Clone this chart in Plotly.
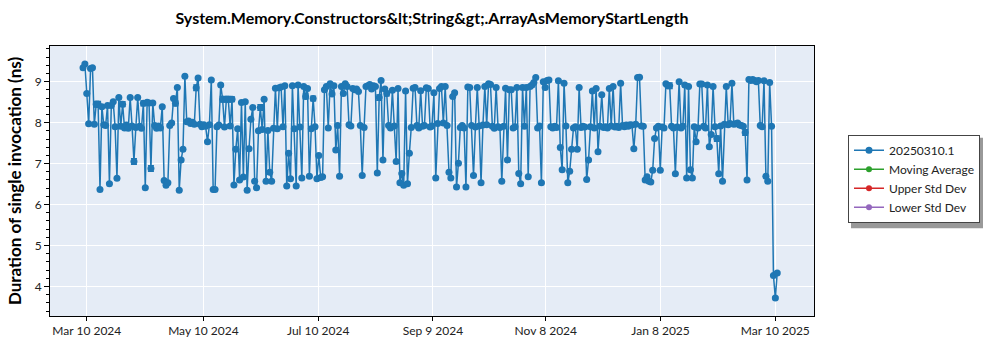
import pandas as pd
import plotly.graph_objects as go

# ---------------- data ----------------
series_name = "20250310.1"
first_day = "2024-03-08"   # one run per day from this date
values = [
    9.34, 9.43, 8.71, 7.97, 9.32, 9.34, 7.96, 8.45, 8.45, 6.37,
    8.39, 7.95, 7.93, 8.42, 6.51, 8.42, 8.51, 7.90, 6.64, 8.61,
    7.91, 8.45, 7.87, 7.94, 7.86, 8.61, 7.92, 7.05, 7.88, 8.61,
    7.91, 7.86, 8.47, 6.41, 8.50, 8.48, 6.88, 8.48, 7.93, 7.86,
    7.92, 7.87, 8.39, 6.59, 6.47, 6.53, 7.93, 7.99, 8.59, 8.47,
    8.86, 6.35, 7.09, 7.35, 9.13, 8.02, 8.04, 7.98, 8.01, 7.96,
    8.85, 9.09, 7.96, 7.90, 7.95, 7.91, 7.53, 7.95, 9.04, 6.37,
    6.37, 7.90, 7.94, 8.92, 8.57, 7.89, 8.57, 8.57, 7.92, 8.57,
    6.48, 7.35, 7.85, 6.60, 8.49, 6.67, 8.51, 6.35, 7.36, 8.08,
    8.37, 6.57, 6.41, 7.80, 8.37, 7.83, 8.57, 6.57, 7.81, 6.79,
    6.57, 7.86, 8.84, 7.85, 8.85, 8.87, 7.90, 8.90, 6.45, 7.25,
    6.63, 8.90, 7.85, 6.45, 8.92, 7.89, 6.65, 8.88, 8.64, 8.83,
    6.69, 7.85, 8.59, 7.90, 6.63, 7.20, 6.66, 6.68, 8.80, 8.88,
    7.87, 8.95, 8.70, 8.90, 7.33, 7.93, 6.69, 8.88, 8.71, 8.95,
    8.88, 7.95, 7.92, 8.83, 8.80, 8.82, 8.76, 7.93, 6.71, 7.88,
    8.88, 8.90, 8.93, 8.82, 8.90, 8.88, 6.77, 8.61, 9.03, 7.09,
    8.82, 8.71, 7.93, 7.87, 8.79, 7.92, 7.05, 8.83, 6.53, 6.76,
    6.47, 8.77, 6.51, 7.25, 7.88, 8.84, 8.86, 7.93, 7.87, 8.78,
    7.91, 7.93, 8.85, 8.83, 7.89, 7.92, 8.73, 6.65, 7.98, 8.83,
    8.88, 7.99, 8.88, 7.93, 6.79, 6.65, 8.64, 8.73, 6.43, 7.01,
    7.88, 7.93, 7.87, 6.43, 8.87, 8.86, 7.93, 6.71, 7.89, 8.86,
    7.92, 6.53, 7.94, 8.88, 7.95, 8.95, 8.93, 7.91, 7.86, 8.86,
    7.90, 7.88, 6.57, 7.91, 8.84, 7.09, 8.80, 8.80, 7.87, 7.90,
    8.86, 6.76, 6.51, 8.86, 7.91, 8.86, 6.68, 8.88, 8.92, 8.98,
    9.10, 7.87, 7.92, 6.53, 9.00, 8.86, 9.03, 9.04, 7.90, 7.87,
    7.91, 7.88, 9.02, 7.39, 6.85, 8.96, 7.92, 6.53, 6.81, 7.35,
    7.87, 7.90, 7.35, 8.86, 7.88, 7.91, 7.89, 6.61, 7.09, 7.90,
    8.77, 7.87, 8.83, 7.29, 7.91, 8.68, 7.88, 7.90, 7.87, 8.83,
    7.92, 8.88, 7.89, 7.91, 7.88, 8.96, 7.93, 7.90, 7.94, 7.91,
    7.95, 7.94, 7.36, 7.96, 9.10, 9.11, 7.92, 7.91, 6.60, 6.68,
    6.57, 6.55, 6.84, 7.61, 7.87, 7.91, 6.84, 7.89, 7.87, 8.95,
    8.90, 8.90, 7.91, 7.87, 6.75, 7.89, 9.00, 7.87, 7.91, 8.92,
    6.65, 8.88, 6.85, 6.65, 7.90, 7.53, 7.87, 8.94, 8.94, 7.91,
    7.87, 8.92, 7.41, 7.71, 8.88, 7.90, 7.61, 6.75, 7.92, 6.57,
    7.96, 8.88, 7.95, 7.98, 8.96, 7.96, 7.97, 7.99, 7.94, 7.93,
    7.91, 7.76, 6.60, 9.05, 9.03, 9.05, 9.03, 9.00, 9.03, 7.93,
    7.90, 9.02, 6.69, 6.57, 8.98, 7.91, 4.27, 3.72, 4.33,
]
# points whose error bars show beyond the marker (index into values) and their half-width
err_index = [7, 8, 21, 27, 32, 36, 49, 60, 74, 76, 77, 79, 94, 118, 122, 157, 161, 311, 336, 351]
err_size = [0.07, 0.07, 0.06, 0.07, 0.06, 0.07, 0.06, 0.07, 0.07, 0.06,
            0.07, 0.06, 0.07, 0.06, 0.06, 0.07, 0.06, 0.07, 0.07, 0.07]

legend_names = ["Moving Average", "Upper Std Dev", "Lower Std Dev"]
legend_colors = ["#2ca02c", "#d62728", "#9467bd"]

tick_values = ["2024-03-10", "2024-05-10 20:00", "2024-07-10 16:00", "2024-09-09 12:00",
               "2024-11-08 08:00", "2025-01-08 04:00", "2025-03-10"]
tick_labels = ["Mar 10 2024", "May 10 2024", "Jul 10 2024", "Sep 9 2024",
               "Nov 8 2024", "Jan 8 2025", "Mar 10 2025"]
x_range = ["2024-02-19 12:00", "2025-03-30 12:00"]
y_range = [3.28, 9.87]

title_text = "System.Memory.Constructors&amp;lt;String&amp;gt;.ArrayAsMemoryStartLength"
y_title = "Duration of single invocation (ns)"

# ---------------- figure ----------------
dates = pd.date_range(first_day, periods=len(values), freq="D")
errors = [0.02] * len(values)
for i, e in zip(err_index, err_size):
    errors[i] = e

FONT = "Segoe UI, Lato, Noto Sans, sans-serif"
BLUE = "#1f77b4"

fig = go.Figure()
fig.add_trace(go.Scatter(
    x=dates, y=values, name=series_name, mode="lines+markers",
    line=dict(color=BLUE, width=1.5),
    marker=dict(color=BLUE, size=7),
    error_y=dict(type="data", array=errors, visible=True, color=BLUE, thickness=1.2, width=3),
))
for n, c in zip(legend_names, legend_colors):
    fig.add_trace(go.Scatter(x=[None], y=[None], name=n, mode="lines+markers",
                             line=dict(color=c, width=1.5), marker=dict(color=c, size=6)))

L, R, T, B = 50, 186, 46, 30
pw, ph = 1000 - L - R, 350 - T - B

def px_x(p):
    return (p - L) / pw

def px_y(p):
    return (350 - B - p) / ph

fig.update_layout(
    width=1000, height=350,
    margin=dict(l=L, r=R, t=T, b=B),
    paper_bgcolor="white", plot_bgcolor="#E5ECF6",
    font=dict(family=FONT, size=12, color="#222"),
    title=dict(text=title_text, x=0.5, xref="paper", xanchor="center",
               y=1 - 18 / 350, yanchor="middle",
               font=dict(family=FONT, size=16, color="black", weight="bold")),
    showlegend=True,
    legend=dict(x=px_x(848), y=px_y(136), xanchor="left", yanchor="top",
                bgcolor="white", bordercolor="#444", borderwidth=1,
                font=dict(family=FONT, size=12, color="#222")),
    shapes=[dict(type="rect", xref="paper", yref="paper",
                 x0=px_x(851), x1=px_x(983), y0=px_y(231), y1=px_y(139),
                 fillcolor="#999", line=dict(width=0), layer="below")],
)
fig.update_xaxes(range=x_range, tickvals=tick_values, ticktext=tick_labels,
                 showgrid=True, gridcolor="white", gridwidth=1,
                 showline=True, linecolor="black", linewidth=1, mirror=True,
                 ticks="outside", ticklen=4, tickcolor="black",
                 tickfont=dict(size=12, color="#222"), zeroline=False)
fig.update_yaxes(range=y_range, dtick=1, tick0=0,
                 showgrid=True, gridcolor="white", gridwidth=1,
                 showline=True, linecolor="black", linewidth=1, mirror=True,
                 ticks="outside", ticklen=5, tickcolor="black",
                 minor=dict(dtick=0.2, ticks="outside", ticklen=3, tickcolor="black", showgrid=False),
                 tickfont=dict(size=12, color="#222"), zeroline=False,
                 title=dict(text=y_title, standoff=8,
                            font=dict(family=FONT, size=17, color="black", weight="bold")))

fig.write_html("out.html")
